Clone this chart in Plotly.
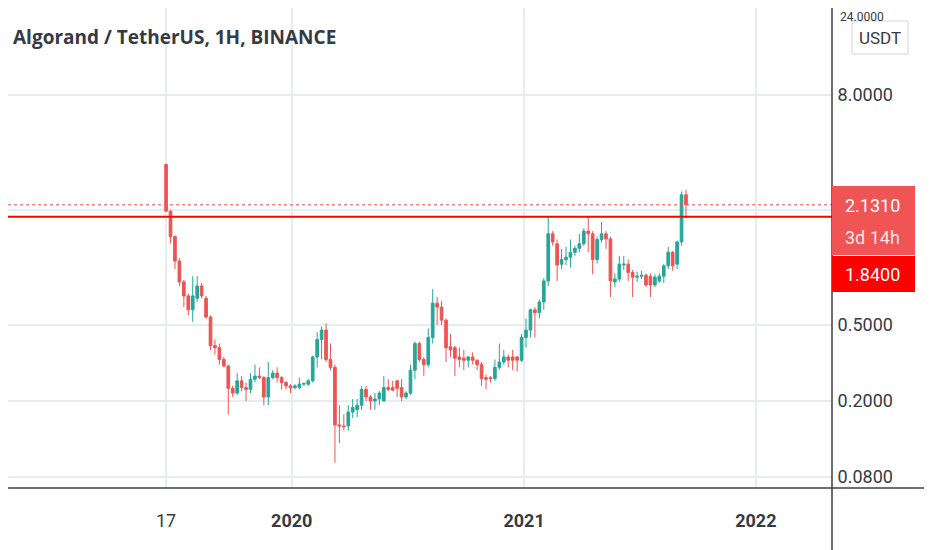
import numpy as np
import pandas as pd
import plotly.graph_objects as go

# weekly ALGO/USDT candles, first bar 17 Jun 2019
start_week = "2019-06-17"
opens = [3.46, 1.97, 1.45, 1.08, 0.84, 0.71, 0.60, 0.69, 0.80, 0.69,
         0.55, 0.39, 0.38, 0.33, 0.305, 0.233, 0.22, 0.255, 0.235, 0.23,
         0.26, 0.27, 0.265, 0.21, 0.265, 0.28, 0.265, 0.25, 0.24, 0.235,
         0.235, 0.245, 0.245, 0.255, 0.34, 0.42, 0.47, 0.33, 0.30, 0.15,
         0.148, 0.148, 0.175, 0.18, 0.19, 0.23, 0.21, 0.20, 0.205, 0.20,
         0.235, 0.235, 0.255, 0.235, 0.21, 0.22, 0.29, 0.40, 0.33, 0.31,
         0.43, 0.65, 0.62, 0.53, 0.385, 0.38, 0.34, 0.335, 0.327, 0.34,
         0.327, 0.31, 0.265, 0.265, 0.262, 0.30, 0.32, 0.34, 0.34, 0.34,
         0.327, 0.43, 0.47, 0.60, 0.58, 0.66, 0.85, 1.50, 1.33, 1.04,
         1.10, 1.13, 1.20, 1.26, 1.33, 1.55, 1.50, 1.10, 1.40, 1.50,
         1.41, 0.84, 0.87, 1.03, 1.04, 0.94, 0.89, 0.90, 0.91, 0.90,
         0.81, 0.85, 0.90, 1.02, 1.20, 1.04, 1.36, 2.40]
highs = [3.50, 2.00, 1.47, 1.12, 0.86, 0.73, 0.90, 0.90, 0.83, 0.71,
         0.56, 0.42, 0.40, 0.34, 0.31, 0.24, 0.28, 0.27, 0.25, 0.28,
         0.31, 0.30, 0.27, 0.32, 0.29, 0.30, 0.27, 0.255, 0.245, 0.245,
         0.265, 0.25, 0.26, 0.345, 0.46, 0.49, 0.51, 0.40, 0.31, 0.19,
         0.17, 0.19, 0.205, 0.205, 0.24, 0.24, 0.215, 0.22, 0.225, 0.27,
         0.26, 0.255, 0.258, 0.26, 0.225, 0.31, 0.41, 0.41, 0.34, 0.48,
         0.77, 0.70, 0.67, 0.54, 0.45, 0.39, 0.38, 0.37, 0.345, 0.36,
         0.33, 0.32, 0.275, 0.27, 0.33, 0.40, 0.37, 0.35, 0.37, 0.345,
         0.45, 0.54, 0.61, 0.62, 0.68, 0.88, 1.85, 1.55, 1.40, 1.25,
         1.28, 1.40, 1.30, 1.50, 1.60, 1.83, 1.55, 1.45, 1.73, 1.55,
         1.45, 0.93, 1.15, 1.15, 1.10, 0.97, 0.95, 0.96, 0.93, 0.93,
         0.92, 0.93, 1.04, 1.28, 1.22, 1.38, 2.50, 2.55]
lows = [1.95, 1.34, 0.98, 0.80, 0.62, 0.56, 0.52, 0.66, 0.69, 0.54,
        0.37, 0.35, 0.31, 0.30, 0.17, 0.21, 0.215, 0.225, 0.20, 0.22,
        0.25, 0.26, 0.19, 0.19, 0.26, 0.25, 0.23, 0.23, 0.22, 0.23,
        0.23, 0.24, 0.24, 0.25, 0.30, 0.33, 0.32, 0.29, 0.095, 0.12,
        0.14, 0.14, 0.163, 0.165, 0.18, 0.20, 0.18, 0.18, 0.19, 0.20,
        0.225, 0.225, 0.21, 0.20, 0.205, 0.215, 0.26, 0.32, 0.27, 0.30,
        0.40, 0.50, 0.50, 0.32, 0.34, 0.27, 0.30, 0.29, 0.30, 0.31,
        0.29, 0.24, 0.23, 0.25, 0.255, 0.29, 0.31, 0.30, 0.29, 0.285,
        0.32, 0.38, 0.43, 0.43, 0.54, 0.60, 0.80, 1.30, 0.85, 0.98,
        1.03, 1.00, 1.15, 1.20, 1.30, 1.20, 0.92, 1.05, 1.35, 1.25,
        0.70, 0.79, 0.84, 0.97, 0.85, 0.70, 0.84, 0.87, 0.79, 0.70,
        0.79, 0.83, 0.83, 0.98, 0.96, 0.98, 1.30, 1.82]
closes = [1.97, 1.45, 1.08, 0.84, 0.71, 0.60, 0.71, 0.80, 0.71, 0.55,
          0.39, 0.38, 0.33, 0.305, 0.233, 0.22, 0.255, 0.235, 0.23, 0.26,
          0.27, 0.265, 0.21, 0.265, 0.28, 0.265, 0.25, 0.24, 0.235, 0.24,
          0.245, 0.247, 0.255, 0.34, 0.42, 0.47, 0.33, 0.30, 0.15, 0.148,
          0.147, 0.175, 0.185, 0.19, 0.23, 0.21, 0.20, 0.205, 0.22, 0.235,
          0.23, 0.228, 0.233, 0.21, 0.22, 0.29, 0.40, 0.33, 0.31, 0.43,
          0.65, 0.62, 0.53, 0.38, 0.37, 0.335, 0.33, 0.327, 0.34, 0.327,
          0.31, 0.262, 0.26, 0.262, 0.30, 0.32, 0.34, 0.327, 0.327, 0.327,
          0.43, 0.47, 0.60, 0.58, 0.66, 0.85, 1.50, 1.36, 1.03, 1.10,
          1.13, 1.20, 1.26, 1.33, 1.55, 1.50, 1.10, 1.40, 1.50, 1.41,
          0.85, 0.87, 1.04, 1.04, 0.94, 0.89, 0.90, 0.91, 0.81, 0.81,
          0.89, 0.90, 1.02, 1.20, 1.02, 1.36, 2.40, 2.131]

level_price = 1.84
countdown = "3d 14h"
price_ticks = [0.08, 0.2, 0.5, 2.0, 8.0]
price_tick_text = ["0.0800", "0.2000", "0.5000", "", "8.0000"]
top_tick_text = "24.0000"
time_ticks = ["2019-06-17", "2020-01-01", "2021-01-01", "2022-01-01"]
time_tick_text = ["17", "<b>2020</b>", "<b>2021</b>", "<b>2022</b>"]

weeks = pd.date_range(start_week, periods=len(closes), freq="W-MON")
x_range = ["2018-10-11", "2022-05-01"]
y_range = [np.log10(0.0701), np.log10(22.8)]

UP = "#26a69a"
DOWN = "#ef5350"
TEXT = "#363a45"
GRID = "#e8ebf0"
AXIS = "#3b3e47"

# the page has an 8px body margin, so the figure is sized to fit the window
# and label positions below are given in window pixels
OFF = 8
FIG_W, FIG_H = 932 - OFF, 550 - OFF
PLOT_W, PLOT_H = 832 - OFF, 488 - OFF


def px_x(x):
    return (x - OFF) / PLOT_W


def px_y(y):
    return 1 - (y - OFF) / PLOT_H


fig = go.Figure()

fig.add_trace(go.Candlestick(
    x=weeks, open=opens, high=highs, low=lows, close=closes,
    increasing=dict(line=dict(color=UP, width=1), fillcolor=UP),
    decreasing=dict(line=dict(color=DOWN, width=1), fillcolor=DOWN),
    whiskerwidth=0,
    hoverinfo="skip",
))

# last price (dotted) and the drawn horizontal level
fig.add_trace(go.Scatter(x=x_range, y=[closes[-1]] * 2, mode="lines",
                         line=dict(color="rgba(239,83,80,0.7)", width=1.5, dash="dot"),
                         hoverinfo="skip"))
fig.add_trace(go.Scatter(x=x_range, y=[level_price] * 2, mode="lines",
                         line=dict(color="#ff0000", width=2),
                         hoverinfo="skip"))

shapes = [
    # axis borders running to the window edge
    dict(type="line", xref="paper", yref="paper", x0=px_x(0), x1=px_x(932),
         y0=0, y1=0, line=dict(color=AXIS, width=1.5)),
    dict(type="line", xref="paper", yref="paper", x0=1, x1=1,
         y0=px_y(550), y1=1, line=dict(color=AXIS, width=1.5)),
    # price badges
    dict(type="rect", xref="paper", yref="paper", x0=1, x1=px_x(915),
         y0=px_y(255), y1=px_y(186), fillcolor="#f05454", line=dict(width=0)),
    dict(type="rect", xref="paper", yref="paper", x0=1, x1=px_x(915),
         y0=px_y(292), y1=px_y(256), fillcolor="#ff0000", line=dict(width=0)),
    # currency button
    dict(type="rect", xref="paper", yref="paper", x0=px_x(852), x1=px_x(908),
         y0=px_y(54), y1=px_y(21), fillcolor="white",
         line=dict(color="#d1d4dc", width=1)),
]

label_font = dict(family="Roboto, Liberation Sans, sans-serif", size=18)
annotations = [
    dict(text="Algorand / TetherUS, 1H, BINANCE", xref="paper", yref="paper",
         x=px_x(11), y=px_y(37), xanchor="left", yanchor="middle", showarrow=False,
         font=dict(family="Open Sans, sans-serif", size=19, color=TEXT, weight=700)),
    dict(text=top_tick_text, xref="paper", yref="paper", x=px_x(838), y=px_y(8),
         xanchor="left", yanchor="top", showarrow=False,
         font=dict(family="Roboto, Liberation Sans, sans-serif", size=12, color=TEXT)),
    dict(text="USDT", xref="paper", yref="paper", x=px_x(880), y=px_y(38),
         xanchor="center", yanchor="middle", showarrow=False,
         font=dict(family="Roboto, Liberation Sans, sans-serif", size=17, color=TEXT)),
    dict(text="%.4f" % closes[-1], xref="paper", yref="paper", x=px_x(873), y=px_y(205),
         xanchor="center", yanchor="middle", showarrow=False,
         font=dict(label_font, color="white")),
    dict(text=countdown, xref="paper", yref="paper", x=px_x(873), y=px_y(237),
         xanchor="center", yanchor="middle", showarrow=False,
         font=dict(label_font, color="#ffe5e5")),
    dict(text="%.4f" % level_price, xref="paper", yref="paper", x=px_x(873), y=px_y(274),
         xanchor="center", yanchor="middle", showarrow=False,
         font=dict(label_font, color="white")),
]

fig.update_layout(
    width=FIG_W, height=FIG_H,
    margin=dict(l=0, r=FIG_W - PLOT_W, t=0, b=FIG_H - PLOT_H),
    paper_bgcolor="white", plot_bgcolor="white",
    showlegend=False,
    boxgap=0.15,
    shapes=shapes,
    annotations=annotations,
    xaxis=dict(
        type="date", range=x_range, rangeslider=dict(visible=False),
        tickvals=time_ticks, ticktext=time_tick_text,
        showgrid=True, gridcolor=GRID, gridwidth=1.5,
        ticks="outside", ticklen=16, tickcolor="rgba(0,0,0,0)",
        tickfont=dict(family="Roboto, sans-serif", size=18, color=TEXT),
        zeroline=False, showline=False,
    ),
    yaxis=dict(
        type="log", side="right", range=y_range,
        tickvals=price_ticks, ticktext=price_tick_text,
        showgrid=True, gridcolor=GRID, gridwidth=1.5,
        ticks="outside", ticklen=1, tickcolor="rgba(0,0,0,0)",
        tickfont=dict(family="Roboto, sans-serif", size=18, color=TEXT),
        zeroline=False, showline=False,
    ),
)

fig.write_html("out.html")
